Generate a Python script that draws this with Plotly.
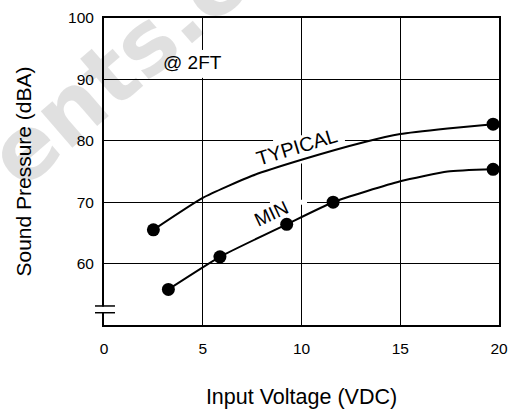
import plotly.graph_objects as go

# ---- data ----
x_ticks = [0, 5, 10, 15, 20]
y_ticks = [60, 70, 80, 90, 100]

typ_curve_x = [2.5, 5.0, 7.5, 10.0, 13.2, 15.0, 17.4, 19.7]
typ_curve_y = [65.5, 70.7, 74.3, 76.9, 79.8, 81.1, 82.0, 82.7]
typ_mark_x = [2.5, 19.7]
typ_mark_y = [65.5, 82.7]

min_curve_x = [3.26, 5.87, 9.25, 11.6, 15.0, 17.4, 19.7]
min_curve_y = [55.8, 61.1, 66.4, 70.0, 73.4, 75.0, 75.35]
min_mark_x = [3.26, 5.87, 9.25, 11.6, 19.7]
min_mark_y = [55.8, 61.1, 66.4, 70.0, 75.35]

FONT = "Arial, 'Liberation Sans', sans-serif"

fig = go.Figure()
for cx, cy, mx, my in [(typ_curve_x, typ_curve_y, typ_mark_x, typ_mark_y),
                       (min_curve_x, min_curve_y, min_mark_x, min_mark_y)]:
    fig.add_trace(go.Scatter(x=cx, y=cy, mode="lines",
                             line=dict(color="black", width=2, shape="spline", smoothing=0.5),
                             hoverinfo="skip", showlegend=False))
    fig.add_trace(go.Scatter(x=mx, y=my, mode="markers",
                             marker=dict(color="black", size=13),
                             showlegend=False))

fig.update_layout(
    width=515, height=410,
    margin=dict(l=104, r=16, t=18, b=85, autoexpand=False),
    paper_bgcolor="white", plot_bgcolor="white",
    font=dict(family=FONT, color="black"),
    xaxis=dict(range=[0, 20], tickvals=x_ticks, showgrid=True, gridcolor="black", gridwidth=1.3,
               showline=True, linecolor="black", linewidth=2, mirror=True, zeroline=False,
               ticks="", tickfont=dict(size=15.5), ticklabelstandoff=8, automargin=False,
               title=dict(text="Input Voltage (VDC)", font=dict(size=21.5), standoff=33)),
    yaxis=dict(range=[50, 100], tickvals=y_ticks, showgrid=True, gridcolor="black", gridwidth=1.3,
               showline=True, linecolor="black", linewidth=2, mirror=True, zeroline=False,
               ticks="", tickfont=dict(size=15.5), ticklabelstandoff=5, automargin=False,
               title=dict(text="Sound Pressure (dBA)", font=dict(size=21), standoff=31)),
)

annotations = [
    # faint watermark
    dict(text="<b>ents.com</b>", xref="paper", yref="paper", x=0.175, y=0.995,
         showarrow=False, textangle=-41,
         font=dict(size=88, color="rgba(0,0,0,0.12)", family="'DejaVu Sans', sans-serif"),
         xanchor="center", yanchor="middle"),
    dict(text="@ 2FT", x=4.46, y=92.7, showarrow=False, font=dict(size=19)),
    dict(text="TYPICAL", x=9.75, y=79.0, showarrow=False, textangle=-17, font=dict(size=20)),
    dict(text="MIN", x=8.5, y=68.1, showarrow=False, textangle=-25, font=dict(size=19)),
]
fig.update_layout(annotations=annotations)

# white gaps in the grid behind the labels (above grid, below curves)
gaps = [
    dict(x0=8.56, x1=12.2, y0=79.6, y1=80.4),   # 80 line behind TYPICAL
    dict(x0=8.4, x1=10.28, y0=69.6, y1=70.4),   # 70 line behind MIN
    dict(x0=9.85, x1=10.15, y0=76.3, y1=80.9),  # x=10 line behind TYPICAL
    dict(x0=4.85, x1=5.15, y0=90.25, y1=94.8),  # x=5 line behind @ 2FT
]
for g in gaps:
    fig.add_shape(type="rect", xref="x", yref="y", fillcolor="white",
                  line=dict(width=0), layer="between", **g)

# axis break symbol on the left axis
fig.add_shape(type="rect", xref="paper", yref="y", x0=-0.008, x1=0.008, y0=52.1, y1=53.0,
              fillcolor="white", line=dict(width=0), layer="above")
for yb in (52.0, 53.1):
    fig.add_shape(type="line", xref="paper", yref="y", x0=-0.0228, x1=0.0278, y0=yb, y1=yb,
                  line=dict(color="black", width=1.5), layer="above")

fig.write_html("out.html", config={"displayModeBar": False},
               post_script="document.body.style.margin='0';")
